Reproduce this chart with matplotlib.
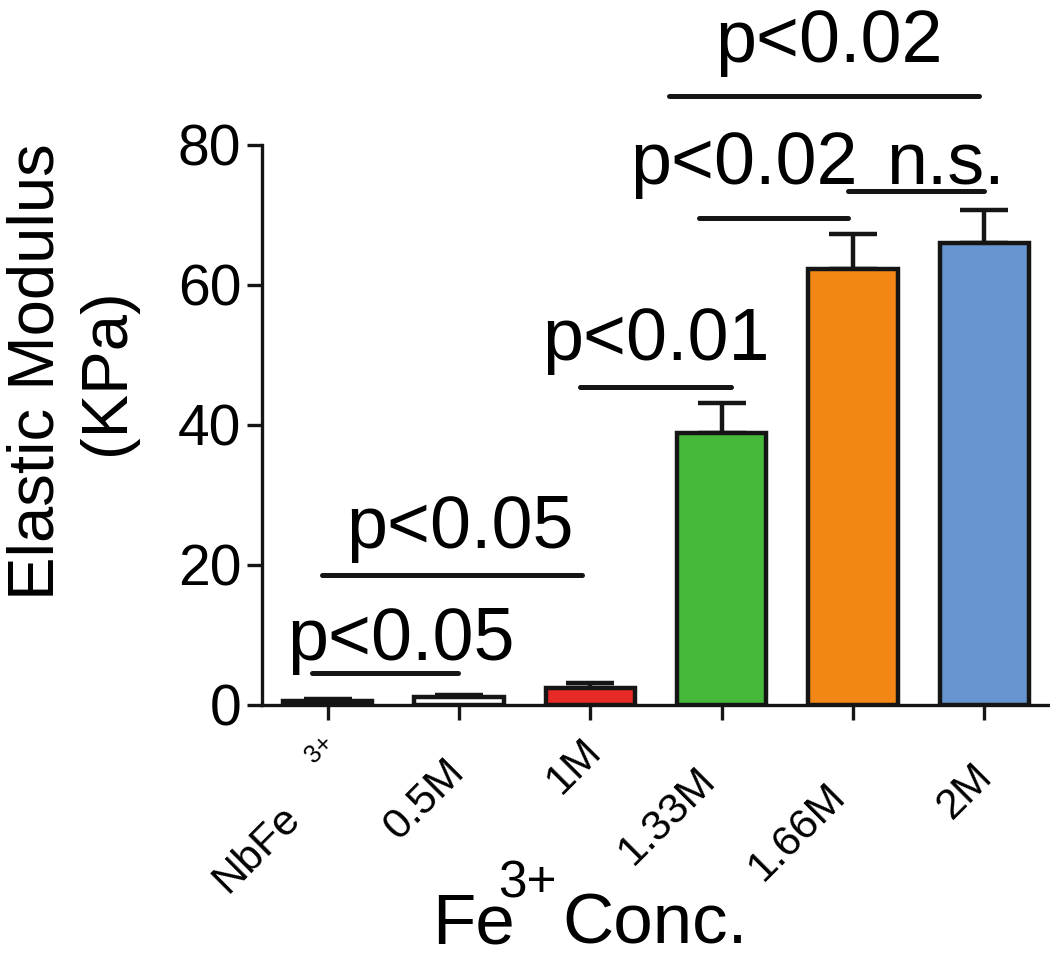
import matplotlib
matplotlib.use("Agg")
import matplotlib.pyplot as plt
from matplotlib import font_manager
from matplotlib.transforms import ScaledTranslation, blended_transform_factory
import numpy as np

# ---------------- data ----------------
categories = ["NbFe", "0.5M", "1M", "1.33M", "1.66M", "2M"]
means = [0.6, 1.2, 2.5, 38.8, 62.3, 66.0]
errors = [0.2, 0.3, 0.7, 4.3, 5.0, 4.7]
bar_colors = ["#ffffff", "#ffffff", "#e82a27", "#46b93b", "#f28715", "#6795cf"]

# significance comparisons
sig_x0 = [-0.12, -0.04, 1.92, 2.83, 3.96, 2.60]
sig_x1 = [0.99, 1.94, 3.07, 3.96, 5.00, 4.96]
sig_y = [4.6, 18.6, 45.4, 69.6, 73.4, 87.0]
sig_labels = ["p<0.05", "p<0.05", "p<0.01", "p<0.02", "n.s.", "p<0.02"]
sig_text_x = [0.56, 1.01, 2.50, 3.17, 4.70, 3.82]
sig_text_y = [6.4, 22.4, 49.3, 74.4, 74.4, 91.9]

y_ticks = [0, 20, 40, 60, 80]

# ---------------- style ----------------
plt.rcParams["font.family"] = ["Liberation Sans", "DejaVu Sans"]
avail = {f.name for f in font_manager.fontManager.ttflist}
narrow = "Liberation Sans Narrow" if "Liberation Sans Narrow" in avail else "Liberation Sans"

INK = "#151515"
fig = plt.figure(figsize=(10.5, 9.6), dpi=100)
W, H = 1050, 960
ax = fig.add_axes([262 / W, 1 - 705 / H, (1050 - 262) / W, (705 - 145) / H])

x = np.arange(len(categories))
ax.errorbar(x, means, yerr=[np.zeros(len(errors)), errors], fmt="none",
            ecolor=INK, elinewidth=3.2, capsize=17, capthick=3.2, zorder=1)
ax.bar(x, means, width=0.68, color=bar_colors, edgecolor=INK, linewidth=3.2, zorder=2)

ax.set_xlim(-0.5, 5.5)
ax.set_ylim(0, 80)
ax.set_yticks(y_ticks)
ax.set_yticklabels([str(v) for v in y_ticks], fontsize=41)
ax.set_xticks(x)
ax.set_xticklabels([""] * len(categories))

for s in ["top", "right"]:
    ax.spines[s].set_visible(False)
for s in ["left", "bottom"]:
    ax.spines[s].set_linewidth(2.4)
    ax.spines[s].set_color(INK)
ax.tick_params(axis="both", direction="out", length=11, width=2.4, color=INK, labelcolor="black")
ax.tick_params(axis="y", pad=4)

# rotated category labels (individual offsets in pixels as in reference)
lab_dx = [-26, 7, 13, -5, -6, 10]
lab_dy = [115, 68, 48, 77, 93, 73]
base = blended_transform_factory(ax.transData, ax.transAxes)
for i, lab in enumerate(categories):
    off = ScaledTranslation(lab_dx[i] / 100, -lab_dy[i] / 100, fig.dpi_scale_trans)
    ax.text(x[i], 0, lab, transform=base + off, rotation=45, rotation_mode="anchor",
            ha="right", va="baseline", fontsize=31, family=[narrow, "DejaVu Sans"],
            clip_on=False)
# stray superscript of the first label
off = ScaledTranslation(-8 / 100, -44 / 100, fig.dpi_scale_trans)
ax.text(x[0], 0, "3+", transform=base + off, rotation=45, ha="center", va="center",
        fontsize=18, family=[narrow, "DejaVu Sans"], clip_on=False)

# significance bars
for x0, x1, yy, lab, tx, ty in zip(sig_x0, sig_x1, sig_y, sig_labels, sig_text_x, sig_text_y):
    ax.plot([x0, x1], [yy, yy], color=INK, lw=3.6, solid_capstyle="round", clip_on=False, zorder=3)
    ax.text(tx, ty, lab, ha="center", va="baseline", fontsize=53, clip_on=False)

# axis titles
fig.text(72 / W, 1 - 372 / H, "Elastic Modulus\n(KPa)", rotation=90, ha="center",
         va="center", multialignment="center", fontsize=47, linespacing=1.22)
fig.text(432 / W, 2 / H, "Fe", ha="left", va="bottom", fontsize=51)
fig.text(498 / W, 1 - 897 / H, "3+", ha="left", va="baseline", fontsize=37)
fig.text(562 / W, 2 / H, "Conc.", ha="left", va="bottom", fontsize=51)

fig.savefig("out.png", dpi=100)
